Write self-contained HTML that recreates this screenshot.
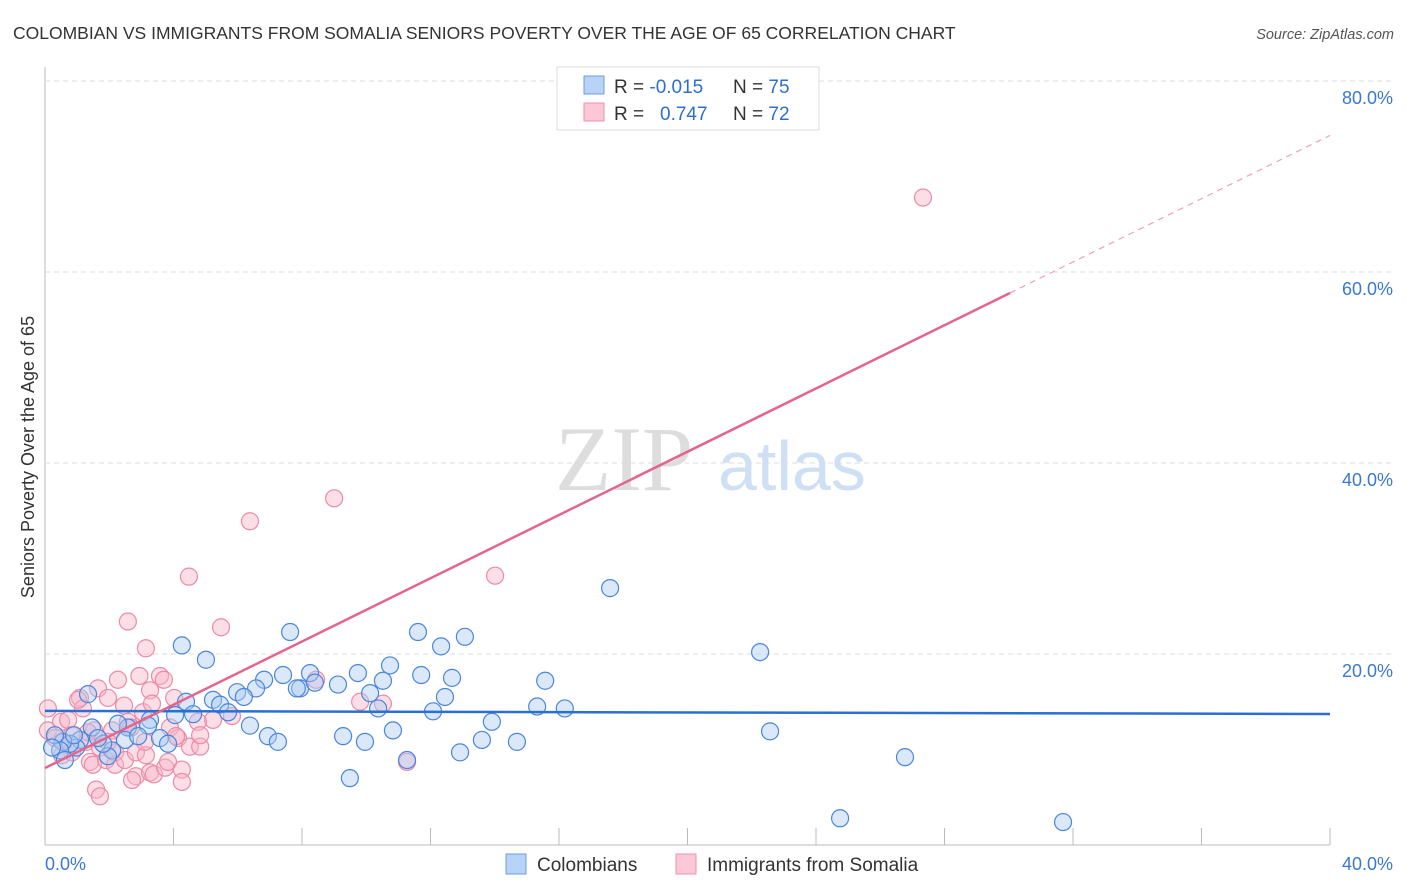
<!DOCTYPE html>
<html><head><meta charset="utf-8"><style>
body{margin:0;background:#fff;font-family:"Liberation Sans",sans-serif;}
svg{display:block}
</style></head><body>
<svg id="chart" width="1406" height="892">
<text x="13" y="39" font-size="17.5" fill="#333">COLOMBIAN VS IMMIGRANTS FROM SOMALIA SENIORS POVERTY OVER THE AGE OF 65 CORRELATION CHART</text>
<text x="1394" y="39" font-size="14.5" fill="#555" font-style="italic" text-anchor="end">Source: ZipAtlas.com</text>
<g id="grid"></g>
<text x="555" y="490" font-size="92" fill="#ddd" font-family="Liberation Serif,serif">ZIP</text>
<text x="718" y="490" font-size="70" fill="#cfe0f5">atlas</text>
<g id="marks"></g>
<text transform="translate(34,457) rotate(-90)" font-size="18" fill="#333" text-anchor="middle">Seniors Poverty Over the Age of 65</text>
<g>
<rect x="557" y="67" width="262" height="63" fill="#fff" stroke="#ddd"/>
<rect x="584" y="76" width="20" height="18" fill="#b8d3f5" stroke="#6a9ee0"/>
<rect x="584" y="103" width="20" height="18" fill="#fcc8d7" stroke="#ee90ac"/>
<text x="614" y="93" font-size="19" fill="#333">R = <tspan fill="#2d6fcf">-0.015</tspan><tspan x="733">N = </tspan><tspan fill="#2d6fcf">75</tspan></text>
<text x="614" y="120" font-size="19" fill="#333">R = <tspan x="660" fill="#2d6fcf">0.747</tspan><tspan x="733">N = </tspan><tspan fill="#2d6fcf">72</tspan></text>
</g>
<g>
<rect x="506" y="854" width="20" height="20" fill="#b8d3f5" stroke="#6a9ee0"/>
<text x="537" y="871" font-size="19" fill="#333">Colombians</text>
<rect x="676" y="854" width="20" height="20" fill="#fcc8d7" stroke="#ee90ac"/>
<text x="707" y="871" font-size="19" fill="#333">Immigrants from Somalia</text>
</g>
</svg>
<script>
const blueX=[17.59,22.26,22.57,26.77,24.75,31.69,15.57,16.18,15.32,14.69,13.6,12.92,13.91,13.07,12.33,11.61,11.71,12.67,12.45,12.08,10.74,10.52,10.12,10.37,10.83,9.74,9.12,8.25,7.94,7.84,8.40,7.63,7.41,6.82,6.57,5.98,6.19,6.38,6.94,7.25,9.28,9.96,9.49,11.27,5.01,4.26,4.39,5.23,5.45,4.61,5.70,4.05,3.27,3.21,3.58,3.83,2.58,2.49,2.9,2.09,1.96,1.81,1.34,1.46,1.09,0.97,0.78,0.56,0.31,0.47,0.22,0.62,1.65,2.27,0.9];
const blueY=[26.9,20.2,11.9,9.2,2.8,2.4,17.2,14.3,14.5,10.8,11,9.7,12.9,21.8,20.8,22.3,17.8,17.5,15.5,14,18.8,17.2,15.9,14.3,12,18,16.8,18,16.4,16.4,17,22.3,17.8,17.3,16.4,16,15.5,12.5,11.4,10.8,11.4,10.8,7,8.9,19.4,20.9,15,15.2,14.7,13.7,13.9,13.6,13.1,12.5,11.2,10.6,12.3,11,11.4,9.9,9.3,10.6,15.8,12.3,11,10.2,10.6,10.8,11.5,9.9,10.2,8.9,11.2,12.7,11.5];
const pinkX=[27.33,9.0,6.38,4.48,14.01,2.58,5.48,3.14,2.94,3.58,3.27,2.27,1.65,1.09,1.96,1.18,2.46,4.02,3.05,2.58,2.68,3.89,4.14,4.51,4.83,5.23,5.82,8.44,9.81,10.52,11.27,0.09,0.09,0.5,0.72,0.84,0.53,0.53,0.84,1.28,1.53,1.71,1.40,1.49,1.9,2.18,2.18,2.49,2.83,2.83,2.71,3.14,3.27,3.39,3.74,3.83,4.08,4.26,4.26,1.59,1.71,1.34,2.09,1.96,3.33,3.70,4.76,3.11,4.83,1.03,0.31,0.72];
const pinkY=[67.8,36.3,33.9,28.1,28.2,23.4,22.8,20.6,17.7,17.7,16.2,17.3,16.4,15.4,15.4,14.3,14.6,15.4,13.9,12.9,12.3,12.3,11.2,10.3,10.3,13.1,13.5,17.3,15,14.8,8.7,14.3,12,12.9,13.1,11.5,10.8,9.4,9.7,10.8,12,10.2,8.7,8.4,8.9,9.7,8.4,8.9,9.7,7.2,6.8,9.4,7.6,7.4,8.1,8.7,11.4,7.9,6.6,5.8,5.1,11.8,12,10.8,14.8,17.3,12.9,10.8,11.5,15.2,11.2,10.5];
const blueFit=[14.04,13.72];
const pinkFit=[8.06,1.656];
const xTicks=[0,4,8,12,16,20,24,28,32,36,40];
const yTicks=[20,40,60,80];
const X=v=>45+v/40*1285, Y=v=>845-v*9.55;
const NS='http://www.w3.org/2000/svg';
function mk(t,a,p){const e=document.createElementNS(NS,t);for(const k in a)e.setAttribute(k,a[k]);p.appendChild(e);return e;}
const g=document.getElementById('grid'),m=document.getElementById('marks');
mk('line',{x1:45,y1:67,x2:45,y2:845,stroke:'#bbb'},g);
mk('line',{x1:45,y1:845,x2:1330,y2:845,stroke:'#bbb'},g);
yTicks.forEach(t=>{
 const l=mk('line',{x1:45,y1:Y(t),x2:1394,y2:Y(t),stroke:'#ddd','stroke-dasharray':'5,4'},g);
 
 
 const tx=mk('text',{x:1393,y:Y(t)+23,'font-size':18,fill:'#3a78d4','text-anchor':'end'},g);tx.textContent=t.toFixed(1)+'%';
 
 
});
xTicks.forEach(t=>{
 const l=mk('line',{x1:X(t),y1:828,x2:X(t),y2:845,stroke:'#bbb'},g);
 
 
});
[[0,'start',45],[40,'end',1393]].forEach(([t,a,x])=>{
 const tx=mk('text',{x:x,y:870,'font-size':18,fill:'#3a78d4','text-anchor':a},g);tx.textContent=t.toFixed(1)+'%';
 
 
});
function pts(xs,ys,f,s,n){xs.forEach((x,i)=>{const c=mk('circle',{cx:X(x),cy:Y(ys[i]),r:8.5,fill:f,'fill-opacity':0.45,stroke:s,'stroke-width':1.2},m);
 
 });}
pts(pinkX,pinkY,'#f8b6c9','#ec8aa8','somalia-point');
pts(blueX,blueY,'#aecbf2','#4a86dc','colombian-point');
const bl=mk('line',{x1:X(0),y1:Y(blueFit[0]),x2:X(40),y2:Y(blueFit[1]),stroke:'#2a6fd2','stroke-width':2.5},m);


const pe=30.04;
const pl=mk('line',{x1:X(0),y1:Y(pinkFit[0]),x2:X(pe),y2:Y(pinkFit[0]+pinkFit[1]*pe),stroke:'#e4648e','stroke-width':2.5},m);


const pd=mk('line',{x1:X(pe),y1:Y(pinkFit[0]+pinkFit[1]*pe),x2:X(40),y2:Y(pinkFit[0]+pinkFit[1]*40),stroke:'#eea0b8','stroke-width':1.2,'stroke-dasharray':'6,5'},m);


</script>
</body></html>
